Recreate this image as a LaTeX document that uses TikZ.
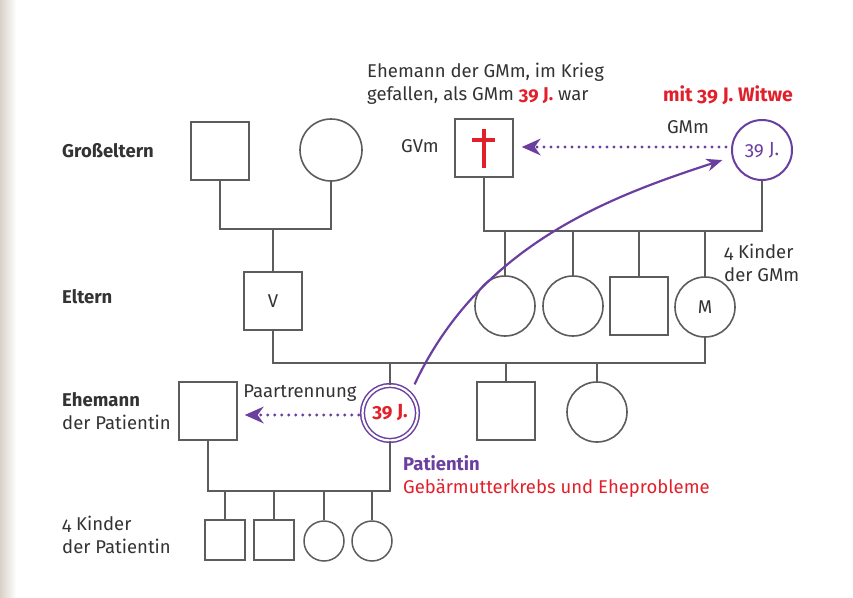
\documentclass[tikz,border=0pt]{standalone}
\usepackage{fontspec}
\setmainfont{Fira Sans}[Numbers=OldStyle]
\usetikzlibrary{arrows.meta,calc}
\definecolor{lin}{HTML}{5C5C5C}
\definecolor{txt}{HTML}{333333}
\definecolor{pur}{HTML}{6A3FA0}
\definecolor{rd}{HTML}{E2202B}
\definecolor{beige}{HTML}{D8D1C8}
\tikzset{
  sq/.style={draw=lin, line width=1.6pt, minimum size=58pt, inner sep=0pt, text=txt, font=\fontsize{18.5}{22}\selectfont},
  ci/.style={draw=lin, line width=1.6pt, circle, minimum size=60pt, inner sep=0pt, text=txt, font=\fontsize{18.5}{22}\selectfont},
  ksq/.style={draw=lin, line width=1.5pt, minimum size=40pt, inner sep=0pt},
  kci/.style={draw=lin, line width=1.5pt, circle, minimum size=40pt, inner sep=0pt},
  conn/.style={draw=lin, line width=2pt},
  lab/.style={text=txt, font=\fontsize{18.5}{23}\selectfont, inner sep=0pt, align=left},
  blab/.style={lab, font=\fontsize{18.5}{23}\selectfont\bfseries},
  dotarrow/.style={draw=pur, line width=3.4pt, line cap=round, dash pattern=on 0pt off 7pt,
    -{Stealth[length=19pt,width=17pt,line width=0pt]}},
  curvearrow/.style={draw=pur, line width=2.2pt, -{Stealth[length=16pt,width=13pt,line width=0pt]}},
}
\begin{document}
\begin{tikzpicture}[x=1pt,y=-1pt]
\useasboundingbox (0,0) rectangle (853,597);
\fill[white] (0,0) rectangle (853,597);
\shade[left color=beige, right color=white] (0,0) rectangle (16,597);

% Row labels
\node[blab, anchor=west] (lgross) at (62,151) {Großeltern};
\node[blab, anchor=west] (leltern) at (62,297) {Eltern};
\node[lab, anchor=west] (lehem) at (62,411) {\textbf{Ehemann}\\der Patientin};
\node[lab, anchor=west] (lkind) at (62,535) {4 Kinder\\der Patientin};

% Grandparents (left)
\node[sq] (gv) at (220,151) {};
\node[ci, minimum size=62pt] (gm) at (331,150) {};
% Grandparents (right)
\node[sq] (gvm) at (484,148) {};
\draw[rd, line width=3.5pt] ($(gvm.center)+(0,-19)$) -- ($(gvm.center)+(0,20)$);
\draw[rd, line width=3.5pt] ($(gvm.center)+(-12,-8)$) -- ($(gvm.center)+(11,-8)$);
\node[ci, draw=pur, line width=2pt, text=pur, font=\fontsize{19}{22}\selectfont] (gmm) at (762,150) {39 J.};

% Parents generation
\node[sq] (v) at (273,301) {V};
\node[ci] (c1) at (505,306) {};
\node[ci] (c2) at (573,306) {};
\node[sq] (c3) at (639,306) {};
\node[ci] (mom) at (705,307) {M};

% Patient generation
\node[sq] (ehem) at (208,411) {};
\node[circle, draw=pur, line width=1.5pt, double=white, double distance=2.2pt, minimum size=55pt, inner sep=0pt,
      text=rd, font=\fontsize{19}{22}\selectfont\bfseries] (pat) at (390,413) {39 J.};
\node[sq] (s1) at (506,411) {};
\node[ci] (s2) at (597,412) {};

% Children of patient
\node[ksq] (k1) at (225,540) {};
\node[ksq] (k2) at (274,540) {};
\node[kci] (k3) at (324,541) {};
\node[kci] (k4) at (372,541) {};

% Connectors
\coordinate (gp) at (273,229);
\draw[conn] (gv.south) |- (gp) -| (gm.south);
\draw[conn] (gp) -- (v.north);

\coordinate (gq) at (620,231);
\draw[conn] (gvm.south) |- (gq) -| (gmm.south);
\draw[conn] (c1.north) -- (c1.north |- gq);
\draw[conn] (c2.north) -- (c2.north |- gq);
\draw[conn] (c3.north) -- (c3.north |- gq);
\draw[conn] (mom.north) -- (mom.north |- gq);

\coordinate (pp) at (450,363);
\draw[conn] (v.south) |- (pp) -| (mom.south);
\draw[conn] (pat.north) -- (pat.north |- pp);
\draw[conn] (s1.north) -- (s1.north |- pp);
\draw[conn] (s2.north) -- (s2.north |- pp);

\coordinate (kp) at (300,491);
\draw[conn] (ehem.south) |- (kp) -| (pat.south);
\draw[conn] (k1.north) -- (k1.north |- kp);
\draw[conn] (k2.north) -- (k2.north |- kp);
\draw[conn] (k3.north) -- (k3.north |- kp);
\draw[conn] (k4.north) -- (k4.north |- kp);

% Arrows
\draw[dotarrow, shorten <=5pt, shorten >=8pt] ([yshift=3pt]gmm.west) -- ([yshift=3pt]gmm.west -| gvm.east);
\draw[dotarrow, shorten <=3pt, shorten >=7pt] ([yshift=-2pt]pat.west) -- ([yshift=-2pt]pat.west -| ehem.east);
\draw[curvearrow, shorten <=10pt, shorten >=10pt] (pat.44) .. controls (480,245) and (609,197) .. (gmm.193);

% Texts
\node[lab, anchor=west] (tgvm) at (367,84) {Ehemann der GMm, im Krieg\\gefallen, als GMm \textcolor{rd}{\bfseries 39 J.} war};
\node[lab] (lgvm) at (420,146) {GVm};
\node[lab] (lgmm) at (688,127) {GMm};
\node[lab, text=rd, font=\fontsize{19.5}{22}\selectfont\bfseries] (witwe) at (728,95) {mit 39 J. Witwe};
\node[lab, anchor=west] (kgmm) at (724,263) {4 Kinder\\der GMm};
\node[lab] (trenn) at (300,393) {Paartrennung};
\node[lab, anchor=west] (tpat) at (403,476) {\textcolor{pur}{\bfseries Patientin}\\\textcolor{rd}{Gebärmutterkrebs und Eheprobleme}};
\end{tikzpicture}
\end{document}
